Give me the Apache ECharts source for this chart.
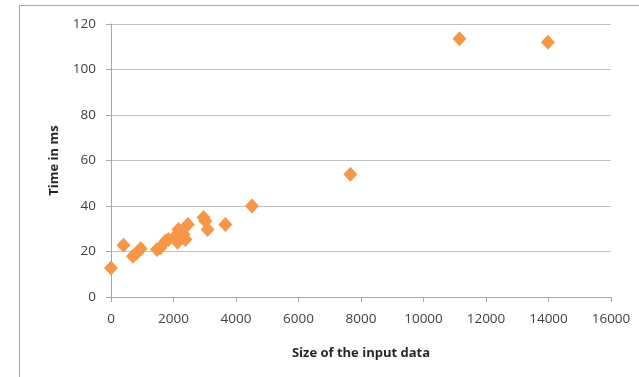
<!DOCTYPE html>
<html>
<head>
<meta charset="utf-8">
<script src="https://cdn.jsdelivr.net/npm/echarts@6/dist/echarts.min.js"></script>
<style>
html,body{margin:0;padding:0;background:#fff;}
#c{width:639px;height:377px;}
</style>
</head>
<body>
<div id="c"></div>
<script>
// Data
const sizes = [0, 400, 700, 830, 950, 1470, 1580, 1740, 1840, 2110, 2130, 2160, 2320, 2380, 2460, 2960, 3020, 3090, 3660, 4510, 7660, 11150, 13980];
const times = [12.8, 22.8, 17.9, 19.4, 21.2, 20.9, 21.6, 24.5, 25.3, 27.5, 24.1, 29.7, 27.5, 25.3, 31.9, 34.9, 33.4, 29.7, 31.9, 40, 54, 113.5, 112];
const xTitle = 'Size of the input data';
const yTitle = 'Time in ms';

const points = sizes.map((s, i) => [s, times[i]]);
const font = '"Open Sans", "Noto Sans", sans-serif';

const chart = echarts.init(document.getElementById('c'), null, {renderer: 'canvas'});
chart.setOption({
  animation: false,
  backgroundColor: '#ffffff',
  graphic: [{
    type: 'polyline',
    shape: {points: [[19.5, 377], [19.5, 5.5], [639, 5.5]]},
    style: {stroke: '#a6a6a6', lineWidth: 1, fill: null},
    silent: true
  }],
  grid: {left: 111, right: 28, top: 24, bottom: 80, containLabel: false},
  xAxis: {
    type: 'value', min: 0, max: 16000, interval: 2000,
    name: xTitle, nameLocation: 'middle', nameGap: 50,
    nameTextStyle: {fontFamily: font, fontSize: 13, fontWeight: 'bold', color: '#262626'},
    axisLine: {show: true, lineStyle: {color: '#a6a6a6', width: 1}},
    axisTick: {show: true, length: 5, inside: false, lineStyle: {color: '#a6a6a6'}},
    axisLabel: {fontFamily: font, fontSize: 13.5, color: '#404040', margin: 15, formatter: v => String(v)},
    splitLine: {show: false}
  },
  yAxis: {
    type: 'value', min: 0, max: 120, interval: 20,
    name: yTitle, nameLocation: 'middle', nameGap: 50, nameRotate: 90,
    nameTextStyle: {fontFamily: font, fontSize: 13, fontWeight: 'bold', color: '#262626'},
    axisLine: {show: true, lineStyle: {color: '#a6a6a6', width: 1}},
    axisTick: {show: true, length: 5, inside: false, lineStyle: {color: '#a6a6a6'}},
    axisLabel: {fontFamily: font, fontSize: 13.5, color: '#404040', margin: 15},
    splitLine: {show: true, lineStyle: {color: '#bfbfbf', width: 1}}
  },
  series: [{
    type: 'scatter',
    data: points,
    symbol: 'diamond',
    symbolSize: [14, 15],
    itemStyle: {color: '#f79646', opacity: 1}
  }]
});
</script>
</body>
</html>
